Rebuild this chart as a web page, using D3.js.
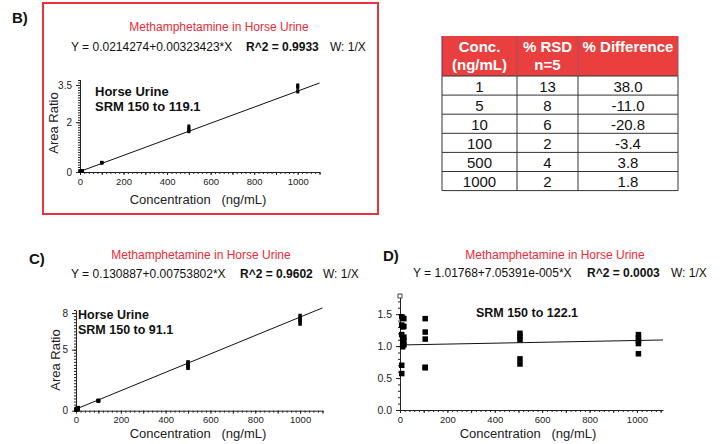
<!DOCTYPE html>
<html><head><meta charset="utf-8">
<script src="https://cdn.jsdelivr.net/npm/d3@7"></script>
<style>
body{margin:0;background:#fff}
svg{display:block}
text{font-family:"Liberation Sans",Arial,Helvetica,sans-serif}
</style>
</head><body>
<svg id="c" width="722" height="444"></svg>
<script>
// ---------- DATA ----------
const concLevels = [1, 5, 10, 100, 500, 1000];
const xTickLabels = [0, 200, 400, 600, 800, 1000];

// Panel B: SRM 150 to 119.1 (5 replicates per level)
const bReplicates = [
  [0.02, 0.03, 0.025, 0.02, 0.03],
  [0.03, 0.04, 0.035, 0.04, 0.03],
  [0.05, 0.06, 0.055, 0.05, 0.06],
  [0.36, 0.37, 0.38, 0.39, 0.37],
  [1.62, 1.66, 1.72, 1.78, 1.85],
  [3.22, 3.27, 3.40, 3.45, 3.50]
];
const bFit = [0.0214274, 0.00323423];
const bYTicks = [0, 2, 3.5];

// Panel C: SRM 150 to 91.1
const cReplicates = [
  [0.05, 0.10, 0.15, 0.08, 0.12],
  [0.10, 0.15, 0.20, 0.12, 0.18],
  [0.10, 0.15, 0.20, 0.25, 0.18],
  [0.80, 0.82, 0.84, 0.81, 0.83],
  [3.48, 3.60, 3.75, 3.88, 4.00],
  [7.10, 7.30, 7.45, 7.60, 7.80]
];
const cFit = [0.130887, 0.00753802];
const cYTicks = [0, 5, 8];

// Panel D: SRM 150 to 122.1
const dReplicates = [
  [1.46, 1.33, 1.18, 0.70, 0.57],
  [1.44, 1.30, 1.12, 1.05, 0.99],
  [1.43, 1.31, 1.14, 1.08, 1.02],
  [1.43, 1.22, 1.11, 0.67, 0.66],
  [1.20, 1.15, 1.10, 0.80, 0.72],
  [1.18, 1.13, 1.08, 1.04, 0.88]
];
const dFit = [1.01768, 7.05391e-5];
const dYTicks = [0, 0.5, 1.0, 1.5];

// Table
const tableHeader1 = ["Conc.", "% RSD", "% Difference"];
const tableHeader2 = ["(ng/mL)", "n=5", ""];
const tableConc = ["1", "5", "10", "100", "500", "1000"];
const tableRsd = ["13", "8", "6", "2", "4", "2"];
const tableDiff = ["38.0", "-11.0", "-20.8", "-3.4", "3.8", "1.8"];

// ---------- DRAW ----------
const svg = d3.select("#c");
const RED = "#ec2a36";

function drawPanel(cfg) {
  const g = svg.append("g");
  const x = d3.scaleLinear().domain(cfg.xDomain).range(cfg.xRange);
  const y = d3.scaleLinear().domain(cfg.yDomain).range(cfg.yRange);

  // minor x ticks
  const xMinor = g.append("g").attr("transform", `translate(0,${cfg.yRange[0]})`)
    .call(d3.axisBottom(x).tickValues(d3.range(0, cfg.xDomain[1] + 0.001, 20)).tickSize(2).tickFormat(""));
  xMinor.select(".domain").remove();
  // major x
  const xAx = g.append("g").attr("transform", `translate(0,${cfg.yRange[0]})`)
    .call(d3.axisBottom(x).tickValues(d3.range(0, cfg.xDomain[1] + 0.001, 100)).tickSize(3).tickSizeOuter(0).tickPadding(3)
      .tickFormat(d => xTickLabels.includes(d) ? d : ""));
  // minor y
  const yMinor = g.append("g").attr("transform", `translate(${cfg.xRange[0]},0)`)
    .call(d3.axisLeft(y).tickValues(d3.range(0, cfg.yDomain[1] + 1e-6, cfg.yMinorStep)).tickSize(2).tickFormat(""));
  yMinor.select(".domain").remove();
  const yAx = g.append("g").attr("transform", `translate(${cfg.xRange[0]},0)`)
    .call(d3.axisLeft(y).tickValues(cfg.yTicks).tickSize(4).tickSizeOuter(0).tickPadding(4)
      .tickFormat(cfg.yFormat));
  g.selectAll(".tick text").attr("fill", "#222").style("font-family", '"Liberation Sans",Arial,sans-serif');
  xAx.selectAll(".tick text").attr("font-size", 9.5);
  yAx.selectAll(".tick text").attr("font-size", cfg.yFontSize || 10);
  g.selectAll(".domain, .tick line").attr("stroke", "#222");

  // fit line
  const [a, b] = cfg.fit;
  g.append("line")
    .attr("x1", x(0)).attr("y1", y(a))
    .attr("x2", x(cfg.xDomain[1])).attr("y2", y(a + b * cfg.xDomain[1]))
    .attr("stroke", "#111").attr("stroke-width", 1);

  // points
  const pts = [];
  cfg.data.forEach((reps, i) => reps.forEach(v => pts.push({c: concLevels[i], v})));
  const s = cfg.marker;
  g.selectAll("rect.pt").data(pts).join("rect").attr("class", "pt")
    .attr("x", d => x(d.c) - s / 2 + (cfg.ptShift || 0)).attr("y", d => y(d.v) - s / 2)
    .attr("width", s).attr("height", s).attr("fill", "#000");

  // y label
  if (cfg.yLabel) {
    g.append("text").attr("transform", `translate(${cfg.yLabelPos[0]},${cfg.yLabelPos[1]}) rotate(-90)`)
      .attr("text-anchor", "middle").attr("font-size", 13).attr("fill", "#222").text(cfg.yLabel);
  }
  // x label
  g.append("text").attr("x", cfg.xLabelPos[0]).attr("y", cfg.xLabelPos[1])
    .attr("text-anchor", "middle").attr("font-size", 13).attr("fill", "#222")
    .style("white-space", "pre").text("Concentration   (ng/mL)");

  // annotation
  cfg.notes.forEach(n => {
    g.append("text").attr("x", n.x).attr("y", n.y).attr("text-anchor", n.anchor || "start")
      .attr("font-size", n.size).attr("font-weight", "bold").attr("fill", "#111").text(n.t);
  });

  // panel letter
  g.append("text").attr("x", cfg.letter.x).attr("y", cfg.letter.y).attr("font-size", 15)
    .attr("font-weight", "bold").attr("fill", "#111").text(cfg.letter.t);

  // title
  g.append("text").attr("x", cfg.title.x).attr("y", cfg.title.y).attr("text-anchor", "middle")
    .attr("font-size", 12).attr("fill", RED).text("Methamphetamine in Horse Urine");

  // equation
  const eq = g.append("text").attr("y", cfg.eq.y).attr("font-size", 12).attr("fill", "#111");
  eq.append("tspan").attr("x", cfg.eq.xs[0]).text(cfg.eq.text);
  eq.append("tspan").attr("x", cfg.eq.xs[1]).attr("font-weight", "bold").text(cfg.eq.r2);
  eq.append("tspan").attr("x", cfg.eq.xs[2]).text("W: 1/X");
  return {x, y};
}

// Panel B border
svg.append("rect").attr("x", 43).attr("y", 3).attr("width", 335).attr("height", 211)
  .attr("fill", "none").attr("stroke", "#e8323c").attr("stroke-width", 2);

drawPanel({
  xDomain: [0, 1100], xRange: [80, 319.5],
  yDomain: [0, 3.72], yRange: [172, 79.5],
  yTicks: bYTicks, yMinorStep: 0.1, yFormat: d => d,
  fit: bFit, data: bReplicates, marker: 3,
  yLabel: "Area Ratio", yLabelPos: [58, 123],
  xLabelPos: [198, 204],
  notes: [{x: 95, y: 96, t: "Horse Urine", size: 13}, {x: 95, y: 111, t: "SRM 150 to 119.1", size: 13}],
  letter: {x: 12, y: 23, t: "B)"},
  title: {x: 219, y: 31},
  eq: {y: 51, xs: [71, 246, 330], text: "Y = 0.0214274+0.00323423*X", r2: "R^2 = 0.9933"}
});

drawPanel({
  xDomain: [0, 1100], xRange: [76, 322.5],
  yDomain: [0, 8.25], yRange: [410.7, 310],
  yTicks: cYTicks, yMinorStep: 0.25, yFormat: d => d,
  fit: cFit, data: cReplicates, marker: 3.5,
  yLabel: "Area Ratio", yLabelPos: [60, 360],
  xLabelPos: [198, 438],
  notes: [{x: 78, y: 319, t: "Horse Urine", size: 12.5}, {x: 78, y: 334, t: "SRM 150 to 91.1", size: 12.5}],
  letter: {x: 29, y: 264, t: "C)"},
  title: {x: 201, y: 259},
  eq: {y: 278, xs: [71, 240, 323], text: "Y = 0.130887+0.00753802*X", r2: "R^2 = 0.9602"}
});

drawPanel({
  xDomain: [0, 1110], xRange: [400, 663],
  yDomain: [0, 1.8], yRange: [410, 295],
  yTicks: dYTicks, yMinorStep: 0.1, yFormat: d3.format(".1f"), yFontSize: 10.5,
  fit: dFit, data: dReplicates, marker: 5.5, ptShift: 1.5,
  yLabel: null,
  xLabelPos: [528, 438],
  notes: [{x: 527, y: 317, t: "SRM 150 to 122.1", size: 12.5, anchor: "middle"}],
  letter: {x: 383, y: 261, t: "D)"},
  title: {x: 555, y: 259},
  eq: {y: 277, xs: [413, 587, 671], text: "Y = 1.01768+7.05391e-005*X", r2: "R^2 = 0.0003"}
});
// small open marker at the top of D's y axis
svg.append("rect").attr("x", 398).attr("y", 294).attr("width", 4).attr("height", 4)
  .attr("fill", "#fff").attr("stroke", "#222").attr("stroke-width", 0.8);

// ---------- TABLE ----------
const colX = [442, 517, 578, 678];
const headTop = 36, headBot = 76, rowH = 19.1;
const tg = svg.append("g");
tg.append("rect").attr("x", colX[0]).attr("y", headTop).attr("width", colX[3] - colX[0])
  .attr("height", headBot - headTop).attr("fill", "#e9403f");
// header texts
tableHeader1.forEach((t, i) => {
  tg.append("text").attr("x", (colX[i] + colX[i + 1]) / 2).attr("y", 52).attr("text-anchor", "middle")
    .attr("font-size", 15).attr("font-weight", "bold").attr("fill", "#fff").text(t);
});
tableHeader2.forEach((t, i) => {
  tg.append("text").attr("x", (colX[i] + colX[i + 1]) / 2).attr("y", 70).attr("text-anchor", "middle")
    .attr("font-size", 15).attr("font-weight", "bold").attr("fill", "#fff").text(t);
});
// rows
const rows = tableConc.map((c, i) => [c, tableRsd[i], tableDiff[i]]);
rows.forEach((r, ri) => {
  const top = headBot + ri * rowH;
  r.forEach((t, ci) => {
    tg.append("text").attr("x", (colX[ci] + colX[ci + 1]) / 2).attr("y", top + 15.5)
      .attr("text-anchor", "middle").attr("font-size", 15).attr("fill", "#111").text(t);
  });
});
const tableBottom = headBot + rows.length * rowH;
// horizontal lines
d3.range(rows.length + 1).forEach(i => {
  tg.append("line").attr("x1", colX[0]).attr("x2", colX[3])
    .attr("y1", headBot + i * rowH).attr("y2", headBot + i * rowH).attr("stroke", "#333").attr("stroke-width", 1);
});
// vertical lines
colX.forEach((cx, i) => {
  tg.append("line").attr("x1", cx).attr("x2", cx).attr("y1", headTop).attr("y2", headBot)
    .attr("stroke", i === 0 ? "#6a2a55" : "#a05060").attr("stroke-width", 1);
  tg.append("line").attr("x1", cx).attr("x2", cx).attr("y1", headBot).attr("y2", tableBottom)
    .attr("stroke", "#333").attr("stroke-width", 1);
});
</script>
</body></html>
